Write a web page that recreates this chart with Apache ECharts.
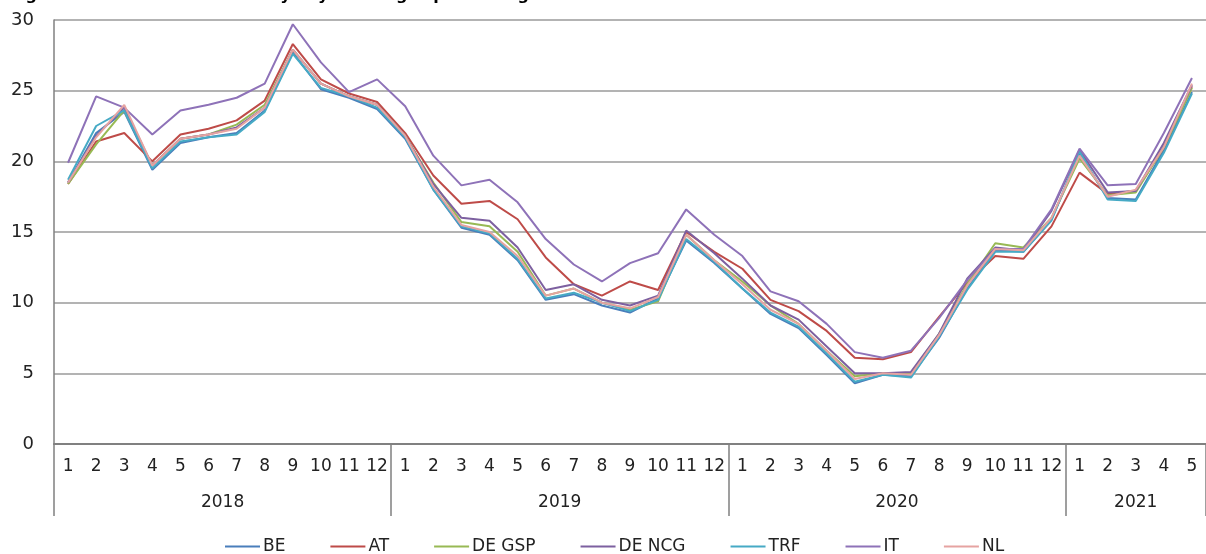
<!DOCTYPE html>
<html>
<head>
<meta charset="utf-8">
<script src="https://cdn.jsdelivr.net/npm/echarts@6/dist/echarts.min.js"></script>
<style>html,body{margin:0;padding:0;background:#fff}#c{width:1206px;height:554px}</style>
</head>
<body>
<div id="c"></div>
<script>
const years = ['2018', '2019', '2020', '2021'];
const monthsPerYear = [12, 12, 12, 5];
const yTicks = [0, 5, 10, 15, 20, 25, 30];
const seriesNames = ['BE', 'AT', 'DE GSP', 'DE NCG', 'TRF', 'IT', 'NL'];
const BE = [18.5,22.0,23.5,19.4,21.3,21.7,22.0,23.6,27.7,25.1,24.5,23.7,
  21.6,18.0,15.3,14.8,13.0,10.2,10.6,9.8,9.3,10.3,14.4,12.8,
  11.0,9.2,8.2,6.3,4.3,4.9,4.8,7.5,11.0,13.7,13.6,15.9,
  20.5,17.4,17.3,20.8,24.9];
const AT = [18.4,21.4,22.0,20.0,21.9,22.3,22.9,24.3,28.3,25.8,24.8,24.2,
  22.0,19.0,17.0,17.2,15.9,13.2,11.3,10.5,11.5,10.9,15.0,13.6,
  12.4,10.2,9.4,8.0,6.1,6.0,6.5,9.0,11.4,13.3,13.1,15.4,
  19.2,17.7,17.9,21.0,25.3];
const DE_GSP = [18.4,21.2,23.6,19.7,21.6,21.9,22.6,24.0,27.9,25.5,24.6,24.0,
  21.8,18.5,15.7,15.4,13.6,10.5,11.0,10.0,9.5,10.1,14.8,13.0,
  11.5,9.8,8.5,6.6,4.8,5.0,5.0,7.8,11.3,14.2,13.9,16.0,
  20.2,17.6,17.8,21.0,25.2];
const DE_NCG = [18.5,21.8,23.8,19.7,21.6,21.9,22.4,23.8,27.9,25.5,24.6,24.0,
  21.8,18.4,16.0,15.8,13.9,10.9,11.3,10.2,9.8,10.5,15.1,13.5,
  11.7,9.8,8.8,6.9,5.0,5.0,5.1,7.8,11.7,13.9,13.7,16.5,
  20.8,17.8,17.9,21.3,25.4];
const TRF = [18.7,22.5,23.6,19.5,21.4,21.7,21.9,23.5,27.6,25.2,24.6,23.8,
  21.7,18.0,15.4,14.9,13.1,10.3,10.7,10.0,9.4,10.2,14.5,12.9,
  11.0,9.3,8.3,6.4,4.4,4.9,4.7,7.6,10.9,13.6,13.6,15.8,
  20.7,17.3,17.2,20.6,24.8];
const IT = [19.9,24.6,23.8,21.9,23.6,24.0,24.5,25.5,29.7,27.0,24.9,25.8,
  23.9,20.4,18.3,18.7,17.1,14.5,12.7,11.5,12.8,13.5,16.6,14.8,
  13.3,10.8,10.1,8.5,6.5,6.1,6.6,8.9,11.6,13.8,13.8,16.6,
  20.9,18.3,18.4,22.0,25.9];
const NL = [18.5,21.7,24.0,19.7,21.6,21.9,22.3,23.8,27.9,25.5,24.6,24.0,
  21.8,18.2,15.5,15.0,13.3,10.5,11.0,10.0,9.6,10.4,14.8,13.0,
  11.3,9.5,8.5,6.6,4.6,5.0,4.9,7.7,11.2,13.8,13.7,16.0,
  20.4,17.5,18.0,21.0,25.5];
const seriesData = [BE, AT, DE_GSP, DE_NCG, TRF, IT, NL];
const colors = ['#4A7EBB', '#BE4B48', '#98B954', '#7D60A0', '#46AAC5', '#8E72B8', '#E6A3A1'];

// month categories
const monthLabels = [];
monthsPerYear.forEach(n => { for (let m = 1; m <= n; m++) monthLabels.push(String(m)); });
// half-month boundary axis for year labels / separators
const nHalf = monthLabels.length * 2 + 1;
const halfData = [];
for (let i = 0; i < nHalf; i++) halfData.push('h' + i);
const yearLabelAt = {};
const sepAt = {};
let acc = 0;
monthsPerYear.forEach((n, k) => {
  sepAt[acc * 2] = true;
  yearLabelAt[acc * 2 + n] = years[k];
  acc += n;
});
sepAt[acc * 2] = true;

const font = 'DejaVu Sans';
const chart = echarts.init(document.getElementById('c'), null, {renderer: 'canvas'});
chart.setOption({
  animation: false,
  backgroundColor: '#fff',
  title: {
    text: 'Figure 6 \u2013 Evolution of monthly day-ahead gas prices at gas hubs 2018\u20132021',
    left: 4, top: -17,
    textStyle: {fontFamily: font, fontSize: 16, fontWeight: 'bold', color: '#000'}
  },
  grid: {left: 54, right: -4, top: 20, bottom: 110, containLabel: false},
  legend: {
    data: seriesNames,
    left: 220, bottom: -6,
    icon: 'rect', itemWidth: 35, itemHeight: 2, itemGap: 45,
    textStyle: {fontFamily: font, fontSize: 17, color: '#222', padding: [0, 0, 0, -2]}
  },
  xAxis: [{
    type: 'category',
    data: monthLabels,
    boundaryGap: true,
    axisLine: {show: true, lineStyle: {color: '#808080', width: 2}},
    axisTick: {show: false},
    axisLabel: {interval: 0, margin: 14, fontFamily: font, fontSize: 17, color: '#222'},
    splitLine: {show: false}
  }, {
    type: 'category',
    data: halfData,
    boundaryGap: false,
    position: 'bottom',
    axisLine: {show: false},
    axisTick: {show: true, length: 72, interval: (i) => !!sepAt[i], lineStyle: {color: '#808080', width: 1.5}},
    axisLabel: {
      interval: (i) => yearLabelAt[i] !== undefined,
      formatter: (v, i) => yearLabelAt[i] || '',
      margin: 50, fontFamily: font, fontSize: 17, color: '#222'
    },
    splitLine: {show: false}
  }],
  yAxis: {
    type: 'value', min: yTicks[0], max: yTicks[yTicks.length - 1], interval: yTicks[1] - yTicks[0],
    axisLine: {show: true, lineStyle: {color: '#808080', width: 1.5}},
    axisTick: {show: false},
    axisLabel: {margin: 20, fontFamily: font, fontSize: 18, color: '#222'},
    splitLine: {show: true, lineStyle: {color: '#9a9a9a', width: 1.5}}
  },
  series: seriesNames.map((name, k) => ({
    name: name,
    type: 'line',
    xAxisIndex: 0,
    data: seriesData[k],
    symbol: 'none',
    showSymbol: false,
    lineStyle: {width: 2, color: colors[k]},
    itemStyle: {color: colors[k]},
    z: 2
  }))
});
</script>
</body>
</html>
